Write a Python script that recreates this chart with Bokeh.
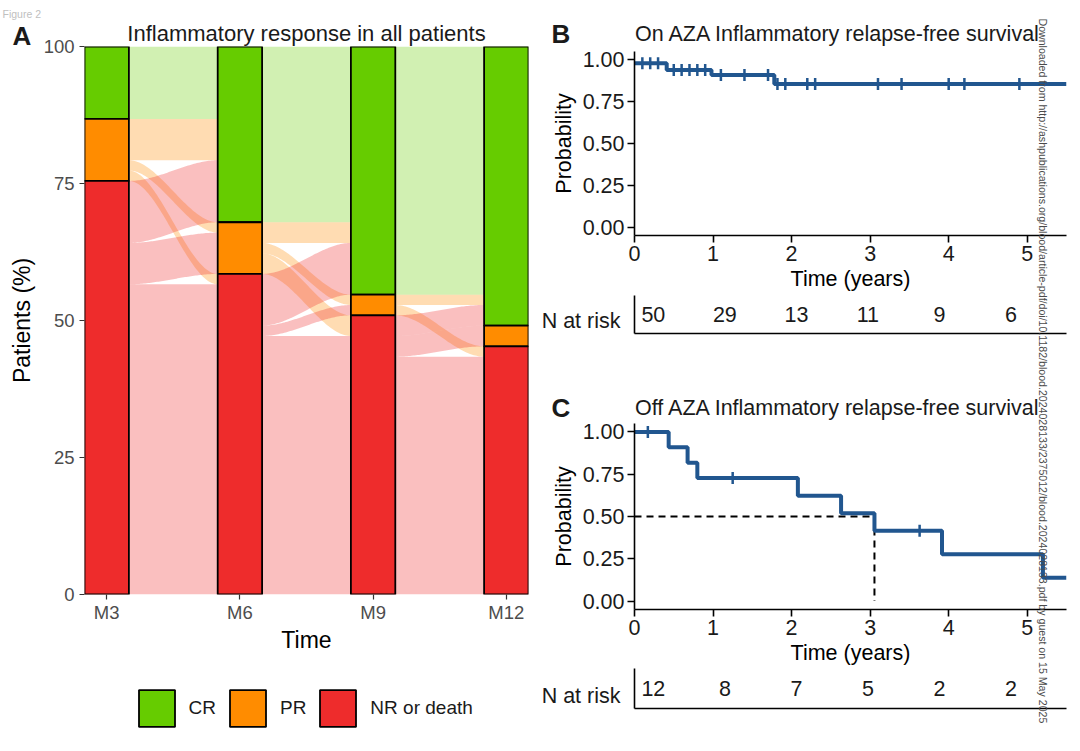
import math
from bokeh.plotting import figure
from bokeh.models import (Label, Legend, LegendItem, FixedTicker, Range1d, NumeralTickFormatter,
                          GridBox)
from bokeh.layouts import row, column
from bokeh.embed import file_html
from bokeh.resources import INLINE
from bokeh.core.properties import value

FONT = "Liberation Sans"

# ---------------- data: panel A (alluvial) ----------------
timepoints = ["M3", "M6", "M9", "M12"]
responses = ["CR", "PR", "NR or death"]
counts_M3 = [7, 6, 40]
counts_M6 = [17, 5, 31]
counts_M9 = [24, 2, 27]
counts_M12 = [27, 2, 24]
flows_M3_M6 = [("CR", "CR", 7), ("PR", "CR", 4), ("PR", "PR", 1), ("PR", "NR or death", 1),
               ("NR or death", "CR", 6), ("NR or death", "PR", 4), ("NR or death", "NR or death", 30)]
flows_M6_M9 = [("CR", "CR", 17), ("PR", "CR", 2), ("PR", "PR", 1), ("PR", "NR or death", 2),
               ("NR or death", "CR", 5), ("NR or death", "PR", 1), ("NR or death", "NR or death", 25)]
flows_M9_M12 = [("CR", "CR", 24), ("PR", "CR", 1), ("PR", "NR or death", 1),
                ("NR or death", "CR", 2), ("NR or death", "PR", 2), ("NR or death", "NR or death", 23)]
patient_ticks = [0, 25, 50, 75, 100]

# ---------------- data: panels B and C (Kaplan-Meier) ----------------
on_times = [0.0, 0.41, 0.98, 1.78]
on_surv = [0.98, 0.94, 0.91, 0.855]
on_censor = [0.10, 0.20, 0.30, 0.50, 0.60, 0.70, 0.80, 0.90, 1.10, 1.40, 1.70, 1.82, 1.92,
             2.20, 2.30, 3.10, 3.40, 4.00, 4.20, 4.90]
on_end = 5.5
off_times = [0.0, 0.435, 0.676, 0.80, 2.08, 2.63, 3.055, 3.915, 5.2]
off_surv = [1.0, 0.909, 0.818, 0.727, 0.623, 0.519, 0.415, 0.277, 0.138]
off_censor = [0.17, 1.25, 3.63]
off_end = 5.5
risk_times = [0, 1, 2, 3, 4, 5]
risk_on = [50, 29, 13, 11, 9, 6]
risk_off = [12, 8, 7, 5, 2, 2]
prob_ticks = [0, 0.25, 0.5, 0.75, 1.0]
year_ticks = [0, 1, 2, 3, 4, 5]

WATERMARK = ("Downloaded from http://ashpublications.org/blood/article-pdf/doi/10.1182/"
             "blood.2024028133/2375012/blood.2024028133.pdf by guest on 15 May 2025")

COL = {"CR": "#66CC00", "PR": "#FF8C00", "NR or death": "#EE2C2C"}
KM_BLUE = "#21568F"
HALF = 1 / 6
PAGE_W, PAGE_H = 1080, 751


def clean(p):
    p.xgrid.visible = False
    p.ygrid.visible = False
    p.outline_line_color = None
    p.background_fill_color = "white"
    p.border_fill_color = "white"


# ================= Panel A =================
counts_by_time = [counts_M3, counts_M6, counts_M9, counts_M12]
flows_by_gap = [flows_M3_M6, flows_M6_M9, flows_M9_M12]
idx = {r: i for i, r in enumerate(responses)}


def stratum_tops(counts):
    tot = sum(counts)
    tops, acc = [], 0
    for c in counts:
        tops.append(100 - acc / tot * 100)
        acc += c
    return tops


pA = figure(width=538, height=751, x_range=Range1d(1 - HALF, len(timepoints) + HALF),
            y_range=Range1d(0, 100), output_backend="svg", toolbar_location=None, title=None,
            min_border_left=84, min_border_right=10, min_border_top=46, min_border_bottom=157)
clean(pA)

ts = [i / 60 for i in range(61)]
sm = [3 * t * t - 2 * t * t * t for t in ts]
for g, flows in enumerate(flows_by_gap):
    cl, cr = counts_by_time[g], counts_by_time[g + 1]
    tl, tr = sum(cl), sum(cr)
    cur_l, cur_r = stratum_tops(cl), stratum_tops(cr)
    lpos, rpos = {}, {}
    for f in sorted(flows, key=lambda f: (idx[f[0]], idx[f[1]])):
        s = idx[f[0]]
        h = f[2] / tl * 100
        lpos[(f[0], f[1])] = (cur_l[s], cur_l[s] - h)
        cur_l[s] -= h
    for f in sorted(flows, key=lambda f: (idx[f[1]], idx[f[0]])):
        d = idx[f[1]]
        h = f[2] / tr * 100
        rpos[(f[0], f[1])] = (cur_r[d], cur_r[d] - h)
        cur_r[d] -= h
    x0, x1 = g + 1 + HALF, g + 2 - HALF
    xs = [x0 + (x1 - x0) * t for t in ts]
    xs_all, ys_all, cols = [], [], []
    for f in flows:
        (lt, lb), (rt, rb) = lpos[(f[0], f[1])], rpos[(f[0], f[1])]
        top = [lt + (rt - lt) * s for s in sm]
        bot = [lb + (rb - lb) * s for s in sm]
        xs_all.append(xs + xs[::-1])
        ys_all.append(top + bot[::-1])
        cols.append(COL[f[0]])
    pA.patches(xs_all, ys_all, fill_color=cols, fill_alpha=0.3, line_color=None)

strata = {}
for k, r in enumerate(responses):
    L, R, T, B = [], [], [], []
    for i, counts in enumerate(counts_by_time):
        tops = stratum_tops(counts)
        L.append(i + 1 - HALF)
        R.append(i + 1 + HALF)
        T.append(tops[k])
        B.append(tops[k] - counts[k] / sum(counts) * 100)
    strata[r] = dict(left=L, right=R, top=T, bottom=B)
    pA.quad(fill_color=COL[r], line_color="black", line_width=1.8, **strata[r])

pA.xaxis.ticker = FixedTicker(ticks=list(range(1, len(timepoints) + 1)))
pA.xaxis.major_label_overrides = {i + 1: t for i, t in enumerate(timepoints)}
pA.yaxis.ticker = FixedTicker(ticks=patient_ticks)
for ax in (pA.xaxis[0], pA.yaxis[0]):
    ax.axis_line_color = None
    ax.major_tick_line_color = "#333333"
    ax.major_tick_line_width = 1.2
    ax.major_tick_in = 0
    ax.major_tick_out = 5
    ax.minor_tick_line_color = None
    ax.major_label_text_font = FONT
    ax.major_label_text_font_size = "18.5px"
    ax.major_label_text_color = "#4d4d4d"
    ax.axis_label_text_font = FONT
    ax.axis_label_text_font_size = "23px"
    ax.axis_label_text_font_style = "normal"
    ax.axis_label_text_color = "black"
pA.xaxis.axis_label = "Time"
pA.yaxis.axis_label = "Patients (%)"
pA.xaxis.major_label_standoff = 2
pA.xaxis.axis_label_standoff = 1
pA.yaxis.major_label_standoff = 5
pA.yaxis.axis_label_standoff = 6


# ================= Panels B and C =================
def surv_at(times, surv, t):
    v = surv[0]
    for ti, si in zip(times, surv):
        if ti <= t:
            v = si
    return v


def km_panel(height, btop, bbot, times, surv, end, censor, median):
    p = figure(width=542, height=height, x_range=Range1d(0, 5.5), y_range=Range1d(-0.05, 1.05),
               output_backend="svg", toolbar_location=None, title=None,
               min_border_left=96, min_border_right=14, min_border_top=btop, min_border_bottom=bbot)
    clean(p)
    p.xaxis.ticker = FixedTicker(ticks=year_ticks)
    p.yaxis.ticker = FixedTicker(ticks=prob_ticks)
    p.yaxis.formatter = NumeralTickFormatter(format="0.00")
    for ax in (p.xaxis[0], p.yaxis[0]):
        ax.axis_line_color = "black"
        ax.axis_line_width = 1.6
        ax.major_tick_line_color = "black"
        ax.major_tick_line_width = 1.6
        ax.major_tick_in = 0
        ax.major_tick_out = 7
        ax.minor_tick_line_color = None
        ax.major_label_text_font = FONT
        ax.major_label_text_font_size = "21.5px"
        ax.major_label_text_color = "#1a1a1a"
        ax.axis_label_text_font = FONT
        ax.axis_label_text_font_size = "21.5px"
        ax.axis_label_text_font_style = "normal"
        ax.axis_label_text_color = "black"
    p.xaxis.axis_label = "Time (years)"
    p.yaxis.axis_label = "Probability"
    p.xaxis.major_label_standoff = 3
    p.xaxis.axis_label_standoff = 3
    p.yaxis.major_label_standoff = 3
    p.yaxis.axis_label_standoff = 4
    if median:
        tmed = next(t for t, s in zip(times, surv) if s <= 0.5)
        p.line([0, tmed], [0.5, 0.5], line_dash="7 5", line_width=2, color="black")
        p.line([tmed, tmed], [0.5, 0], line_dash="7 5", line_width=2, color="black")
    p.step(times + [end], surv + [surv[-1]], mode="after", line_width=4, color=KM_BLUE)
    p.scatter(censor, [surv_at(times, surv, t) for t in censor], marker="dash", angle=math.pi / 2,
              size=12, line_width=2.5, color=KM_BLUE)
    return p


def risk_table(height, bbot, counts):
    p = figure(width=542, height=height, x_range=Range1d(-0.2635, 5.777), y_range=Range1d(0, 1),
               output_backend="svg", toolbar_location=None, title=None,
               min_border_left=95, min_border_right=0, min_border_top=0, min_border_bottom=bbot)
    clean(p)
    for ax in (p.xaxis[0], p.yaxis[0]):
        ax.ticker = FixedTicker(ticks=[])
        ax.axis_line_color = "black"
        ax.axis_line_width = 1.6
        ax.major_tick_out = 0
        ax.major_tick_in = 0
        ax.minor_tick_line_color = None
        ax.major_label_text_font_size = "0px"
    p.text(x=risk_times, y=[0.5] * len(risk_times), text=[str(c) for c in counts],
           text_align="center", text_baseline="middle", text_font=value(FONT),
           text_font_size="21.5px", text_color="#1a1a1a")
    return p


pB = km_panel(295, 51, 60, on_times, on_surv, on_end, on_censor, False)
tB = risk_table(50, 12, risk_on)
pC = km_panel(323, 78, 59, off_times, off_surv, off_end, off_censor, True)
tC = risk_table(83, 43, risk_off)

main = row(pA, column(pB, tB, pC, tC))

# ================= transparent overlay for free texts and legend =================
ov = figure(width=PAGE_W, height=PAGE_H, x_range=Range1d(0, PAGE_W), y_range=Range1d(0, PAGE_H),
            output_backend="svg", toolbar_location=None, title=None, x_axis_type=None,
            y_axis_type=None, min_border=0)
ov.xgrid.visible = False
ov.ygrid.visible = False
ov.outline_line_color = None
ov.background_fill_color = None
ov.border_fill_color = None


def otext(text, x, y_top, size, align="left", baseline="alphabetic", color="#1a1a1a",
          style="normal", angle=0.0):
    ov.add_layout(Label(x=x, y=PAGE_H - y_top, text=text, text_font=FONT, text_font_size=size,
                        text_align=align, text_baseline=baseline, text_color=color,
                        text_font_style=style, angle=angle))


otext("Figure 2", 2, 13, "10.5px", color="#c0c0c0")
otext("A", 12, 35, "26px", style="bold")
otext("Inflammatory response in all patients", 306, 33, "22px", align="center")
otext("B", 551, 33, "26px", style="bold")
otext("On AZA Inflammatory relapse-free survival", 634.5, 33, "21.5px")
otext("C", 551, 407, "26px", style="bold")
otext("Off AZA Inflammatory relapse-free survival", 634.5, 407, "21.5px")
otext("N at risk", 620, 320.5, "21.5px", align="right")
otext("N at risk", 620, 695.5, "21.5px", align="right")
otext(WATERMARK, 1042.5, 18, "10.6px", baseline="middle", color="#4a4a4a", angle=-math.pi / 2)

# legend keys: hidden copies of the strata (same data), used only for the legend swatches
leg_r = {}
for r in responses:
    leg_r[r] = ov.quad(fill_color=COL[r], line_color="black", line_width=1.8, **strata[r])
    leg_r[r].visible = False
legend = Legend(items=[LegendItem(label=r, renderers=[leg_r[r]]) for r in responses],
                orientation="horizontal", location=(133.5, PAGE_H - 730.5), glyph_width=45,
                glyph_height=46, label_standoff=10, spacing=9, padding=0, margin=0,
                border_line_color=None, background_fill_alpha=0, label_text_font=FONT,
                label_text_font_size="19px", label_text_color="#1a1a1a")
ov.add_layout(legend)

page = GridBox(children=[(main, 0, 0), (ov, 0, 0)])
open("out.html", "w").write(file_html(page, INLINE))
